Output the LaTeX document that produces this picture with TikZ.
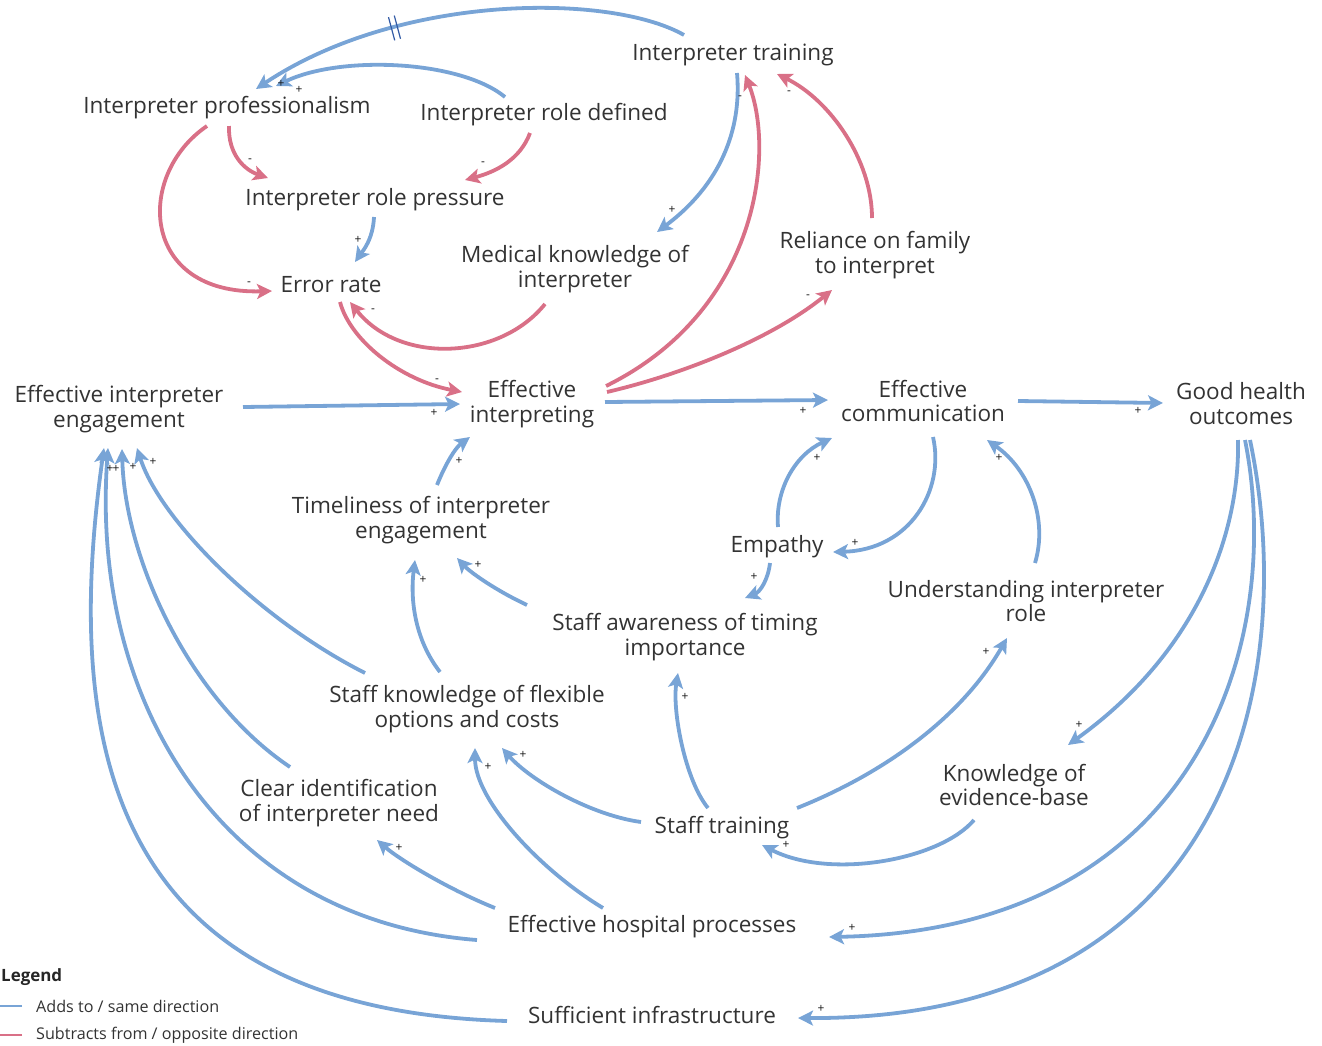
\documentclass[tikz,border=0pt]{standalone}
\usepackage{fontspec}
\setmainfont{Open Sans}
\usetikzlibrary{arrows.meta,calc,decorations.markings}

\definecolor{linkblue}{RGB}{120,164,214}
\definecolor{linkred}{RGB}{217,112,135}
\definecolor{delayblue}{RGB}{50,90,165}
\definecolor{labelgray}{RGB}{51,51,51}

\tikzset{
  factor/.style={font=\fontsize{22.6}{25}\selectfont, text=labelgray, align=center, inner sep=0pt},
  addlink/.style={line width=3.8bp, color=linkblue, -{Stealth[length=15bp,width=15bp,inset=3.5bp]}},
  sublink/.style={addlink, color=linkred},
  polarity/.style={font=\fontsize{12}{12}\selectfont, text=black!90, inner sep=0pt},
  keytext/.style={font=\fontsize{16.2}{18}\selectfont, text=labelgray, anchor=west, inner sep=0pt},
  delay/.style={postaction={decorate, decoration={markings,
    mark=at position 0.66 with {\draw[-, delayblue, line width=1.2bp] (-3,-12) -- (-3,12) (3,-12) -- (3,12);}}}},
}

\begin{document}
\begin{tikzpicture}[x=1bp,y=-1bp]
\useasboundingbox (0,0) rectangle (1322,1045);

% interpreter side
\node[factor] (itrain) at (733,55) {Interpreter training};
\node[factor] (iprof) at (227,108) {Interpreter professionalism};
\node[factor] (irole) at (544,115) {Interpreter role defined};
\node[factor] (ipress) at (375,200) {Interpreter role pressure};
\node[factor] (error) at (331,285) {Error rate};
\node[factor] (medknow) at (575,269) {Medical knowledge of\\interpreter};
\node[factor] (family) at (875,255) {Reliance on family\\to interpret};

% middle row
\node[factor] (engage) at (119,409) {Effective interpreter\\engagement};
\node[factor] (einterp) at (532,404) {Effective\\interpreting};
\node[factor] (ecomm) at (923,401) {Effective\\communication};
\node[factor] (health) at (1241,404) {Good health\\outcomes};

% staff side
\node[factor] (timely) at (421,520) {Timeliness of interpreter\\engagement};
\node[factor] (empathy) at (777,547) {Empathy};
\node[factor] (urole) at (1026,601) {Understanding interpreter\\role};
\node[factor] (aware) at (685,637) {Staff awareness of timing\\importance};
\node[factor] (flex) at (467,709) {Staff knowledge of flexible\\options and costs};
\node[factor] (clearid) at (339,803) {Clear identification\\of interpreter need};
\node[factor] (evidence) at (1014,785) {Knowledge of\\evidence-base};
\node[factor] (strain) at (722,828) {Staff training};
\node[factor] (hosp) at (652,927) {Effective hospital processes};
\node[factor] (infra) at (652,1015) {Sufficient infrastructure};

% links between interpreter factors
\draw[addlink,delay] ($(itrain)+(-49,-20)$) .. controls (610,-7) and (400,-7) .. ($(iprof)+(29,-19)$);
\draw[addlink] ($(irole)+(-39,-18)$) .. controls (460,60) and (340,55) .. ($(iprof)+(49,-22)$);
\draw[sublink] ($(iprof)+(2,18)$) .. controls (228,155) and (245,170) .. ($(ipress)+(-107,-22)$);
\draw[sublink] ($(irole)+(-14,18)$) .. controls (520,160) and (495,172) .. ($(ipress)+(90,-20)$);
\draw[sublink] ($(iprof)+(-20,18)$) .. controls (135,175) and (140,295) .. ($(error)+(-59,6)$);
\draw[addlink] ($(ipress)+(-1,17)$) .. controls (373,240) and (362,252) .. ($(error)+(24,-23)$);
\draw[sublink] ($(medknow)+(-30,35)$) .. controls (500,360) and (400,365) .. ($(error)+(19,17)$);
\draw[addlink] ($(itrain)+(4,18)$) .. controls (742,130) and (720,185) .. ($(medknow)+(82,-37)$);
\draw[sublink] ($(einterp)+(74,-18)$) .. controls (760,310) and (775,150) .. ($(itrain)+(12,20)$);
\draw[sublink] ($(einterp)+(75,-12)$) .. controls (680,375) and (770,340) .. ($(family)+(-43,35)$);
\draw[sublink] ($(family)+(-3,-37)$) .. controls (872,160) and (830,100) .. ($(itrain)+(44,19)$);
\draw[sublink] ($(error)+(9,17)$) .. controls (350,340) and (400,380) .. ($(einterp)+(-70,-12)$);

% main chain
\draw[addlink] ($(engage)+(124,-2)$) -- ($(einterp)+(-72,0)$);
\draw[addlink] ($(einterp)+(73,-2)$) -- ($(ecomm)+(-95,-1)$);
\draw[addlink] ($(ecomm)+(95,0)$) -- ($(health)+(-78,-1)$);
\draw[addlink] ($(timely)+(16,-35)$) .. controls (445,465) and (455,448) .. ($(einterp)+(-62,33)$);

% communication loop
\draw[addlink] ($(ecomm)+(10,36)$) .. controls (945,490) and (910,550) .. ($(empathy)+(56,5)$);
\draw[addlink] ($(empathy)+(1,-20)$) .. controls (775,490) and (795,455) .. ($(ecomm)+(-91,37)$);
\draw[addlink] ($(empathy)+(-7,16)$) .. controls (768,580) and (760,592) .. ($(aware)+(60,-39)$);
\draw[addlink] ($(urole)+(9,-38)$) .. controls (1048,520) and (1030,470) .. ($(ecomm)+(64,39)$);
\draw[addlink] ($(aware)+(-158,-32)$) .. controls (495,590) and (470,572) .. ($(timely)+(36,38)$);
\draw[addlink] ($(flex)+(-27,-37)$) .. controls (415,640) and (410,600) .. ($(timely)+(-6,40)$);

% staff training
\draw[addlink] ($(strain)+(-14,-20)$) .. controls (685,780) and (672,710) .. ($(aware)+(-7,36)$);
\draw[addlink] ($(strain)+(75,-20)$) .. controls (880,775) and (960,720) .. ($(urole)+(-19,37)$);
\draw[addlink] ($(strain)+(-81,-6)$) .. controls (590,815) and (530,780) .. ($(flex)+(35,39)$);
\draw[addlink] ($(evidence)+(-40,35)$) .. controls (940,860) and (830,880) .. ($(strain)+(40,17)$);

% feedback from outcomes
\draw[addlink] ($(health)+(-3,36)$) .. controls (1240,530) and (1200,650) .. ($(evidence)+(54,-40)$);
\draw[addlink] ($(health)+(4,36)$) .. controls (1285,640) and (1200,930) .. ($(hosp)+(177,10)$);
\draw[addlink] ($(health)+(9,36)$) .. controls (1300,680) and (1230,1020) .. ($(infra)+(146,3)$);

% hospital and infrastructure
\draw[addlink] ($(hosp)+(-49,-19)$) .. controls (540,870) and (475,800) .. ($(flex)+(8,39)$);
\draw[addlink] ($(hosp)+(-157,-19)$) .. controls (450,890) and (400,860) .. ($(clearid)+(38,37)$);
\draw[addlink] ($(hosp)+(-175,13)$) .. controls (220,920) and (90,700) .. ($(engage)+(-11,39)$);
\draw[addlink] ($(infra)+(-145,6)$) .. controls (120,1010) and (60,760) .. ($(engage)+(-15,39)$);
\draw[addlink] ($(clearid)+(-49,-36)$) .. controls (190,700) and (125,560) .. ($(engage)+(3,40)$);
\draw[addlink] ($(flex)+(-102,-36)$) .. controls (260,620) and (160,520) .. ($(engage)+(18,39)$);

% polarity signs
\foreach \sx/\sy/\sg [count=\i] in {281/84/+, 299/90/+, 250/161/-, 483/164/-, 249/284/-, 358/240/+,
    373/311/-, 672/210/+, 740/98/-, 789/93/-, 808/297/-, 437/381/-, 434/413/+, 459/461/+,
    803/411/+, 1138/411/+, 855/543/+, 817/458/+, 754/577/+, 999/458/+, 478/565/+, 423/580/+,
    685/697/+, 986/652/+, 523/755/+, 786/845/+, 1079/725/+, 852/928/+, 821/1009/+, 488/767/+,
    399/848/+, 110/469/+, 116/469/+, 133/467/+, 153/462/+}
  \node[polarity] (sign\i) at (\sx,\sy) {\sg};

% legend
\node[font=\bfseries\fontsize{17}{18}\selectfont, text=black!85, anchor=west, inner sep=0pt] (legend) at (1,977) {Legend};
\node[keytext] (addkey) at (36,1006) {Adds to / same direction};
\node[keytext] (subkey) at (36,1035) {Subtracts from / opposite direction};
\draw[linkblue, line width=1.5bp] ($(addkey.west)+(-14,0)$) -- ++(-30,0);
\draw[linkred, line width=1.5bp] ($(subkey.west)+(-14,0)$) -- ++(-30,0);

\end{tikzpicture}
\end{document}
